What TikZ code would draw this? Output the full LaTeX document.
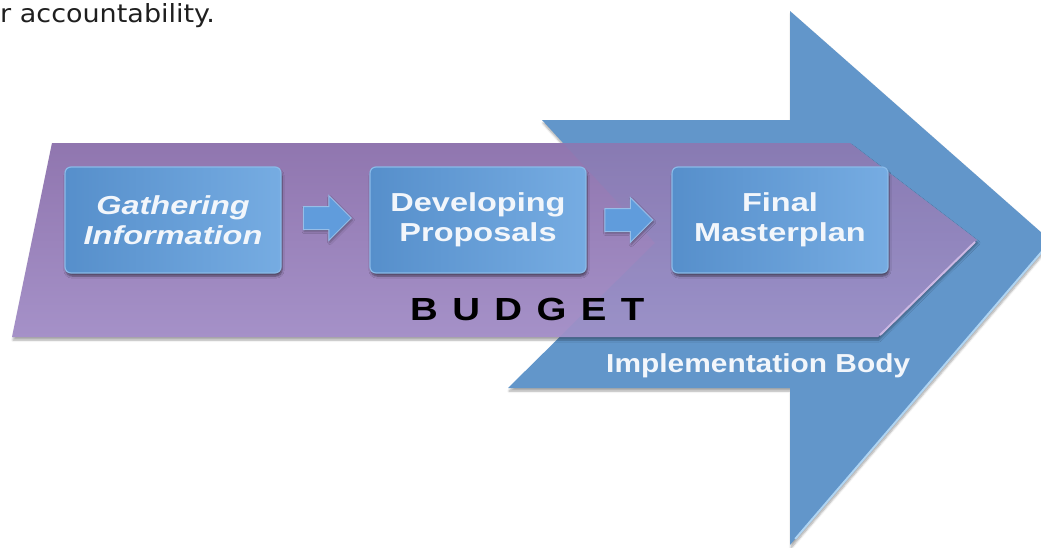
\documentclass[tikz,border=0pt]{standalone}
\usepackage{fontspec}
\usetikzlibrary{shapes.arrows,shadows.blur,calc}
\setmainfont{Liberation Sans}
\newfontfamily\boxfont[FakeStretch=1.25]{Liberation Sans}
\newfontfamily\bodyfont[FakeStretch=1.15]{Liberation Sans}
\newfontfamily\budgetfont[FakeStretch=1.2,LetterSpace=45]{Liberation Sans}
\newfontfamily\topfont[FakeStretch=1.08]{DejaVu Sans}
\newcommand\boxsize{\fontsize{26}{30}\selectfont}

\definecolor{purpletop}{RGB}{144,118,175}
\definecolor{purplebot}{RGB}{165,145,200}
\definecolor{purpleedge}{RGB}{205,185,228}
\definecolor{bluebody}{RGB}{98,150,202}
\definecolor{blueedge}{RGB}{175,212,242}
\definecolor{boxleft}{RGB}{86,143,203}
\definecolor{boxright}{RGB}{118,172,226}
\definecolor{boxedge}{RGB}{138,186,232}
\definecolor{boxtext}{RGB}{242,246,251}
\definecolor{arrowfill}{RGB}{96,156,220}
\definecolor{arrowedge}{RGB}{150,190,232}

\tikzset{
	stepbox/.style={rounded corners=6pt, minimum width=216pt, minimum height=106pt, inner sep=0pt,
		draw=boxedge, line width=1.2pt, left color=boxleft, right color=boxright, text=boxtext,
		align=center, font=\boxfont\bfseries\boxsize,
		blur shadow={shadow xshift=1pt, shadow yshift=-3pt, shadow blur steps=6, shadow opacity=50}},
	steparrow/.style={single arrow, draw=arrowedge, fill=arrowfill, line width=1pt,
		minimum height=48pt, inner xsep=0pt, inner ysep=11pt, single arrow head extend=11pt,
		single arrow head indent=0pt,
		blur shadow={shadow xshift=1pt, shadow yshift=-2pt, shadow blur steps=4, shadow opacity=35}}
}

\begin{document}
\begin{tikzpicture}[x=1pt, y=-1pt]
		\useasboundingbox (0, 0) rectangle (1041, 547);

		% end of the sentence above the figure
		\node[anchor=base west, inner sep=0, font=\topfont\fontsize{25}{28}\selectfont, text=black!88] (sentence) at (0, 22) {r accountability.};

		% big blue arrow
		\coordinate (b1) at (542, 120);
		\coordinate (b2) at (790, 120);
		\coordinate (btop) at (790, 11);
		\coordinate (btip) at (1051, 241);
		\coordinate (bbot) at (790, 545);
		\coordinate (b3) at (790, 388);
		\coordinate (b4) at (508, 388);
		\coordinate (bnotch) at (655, 243);
		\fill[bluebody, blur shadow={shadow xshift=1pt, shadow yshift=-3pt, shadow blur steps=6, shadow opacity=35}]
			(b1) -- (b2) -- (btop) -- (btip) -- (bbot) -- (b3) -- (b4) -- (bnotch) -- cycle;
		\draw[blueedge, line width=2pt] ($(btip)!.02!(bbot)$) -- ($(bbot)!.02!(btip)$);

		% purple budget arrow
		\coordinate (p1) at (52, 143);
		\coordinate (p2) at (850, 143);
		\coordinate (ptip) at (977, 240);
		\coordinate (p3) at (878, 337);
		\coordinate (p4) at (12, 337);
		\shade[top color=purpletop, bottom color=purplebot, blur shadow={shadow xshift=1pt, shadow yshift=-3pt, shadow blur steps=6, shadow opacity=35}]
			(p1) -- (p2) -- (ptip) -- (p3) -- (p4) -- cycle;
		\begin{scope}
			\clip (p1) -- (p2) -- (ptip) -- (p3) -- (p4) -- cycle;
			\fill[bluebody, opacity=.15] (b1) -- (b2) -- (btop) -- (btip) -- (bbot) -- (b3) -- (b4) -- (bnotch) -- cycle;
		\end{scope}
		\draw[purpleedge, line width=2pt] ($(ptip)!.02!(p3)$) -- ($(p3)!.02!(ptip)$);

		% the three steps
		\node[stepbox, font=\boxfont\bfseries\itshape\boxsize] (gather) at (173, 220) {Gathering\\Information};
		\node[stepbox] (develop) at (478, 220) {Developing\\Proposals};
		\node[stepbox] (final) at (780, 220) {Final\\Masterplan};

		\node[steparrow] (arrowa) at ($(gather.east)!.5!(develop.west) + (-4, -2)$) {};
		\node[steparrow] (arrowb) at ($(develop.east)!.5!(final.west) + (-6, 0)$) {};

		% labels on the arrows
		\node[anchor=base west, inner sep=0, font=\budgetfont\bfseries\fontsize{32}{36}\selectfont] (budget) at (410, 320) {BUDGET};
		\node[anchor=base west, inner sep=0, font=\bodyfont\bfseries\fontsize{26}{30}\selectfont, text=boxtext] (body) at (606, 372) {Implementation Body};
	\end{tikzpicture}
\end{document}
